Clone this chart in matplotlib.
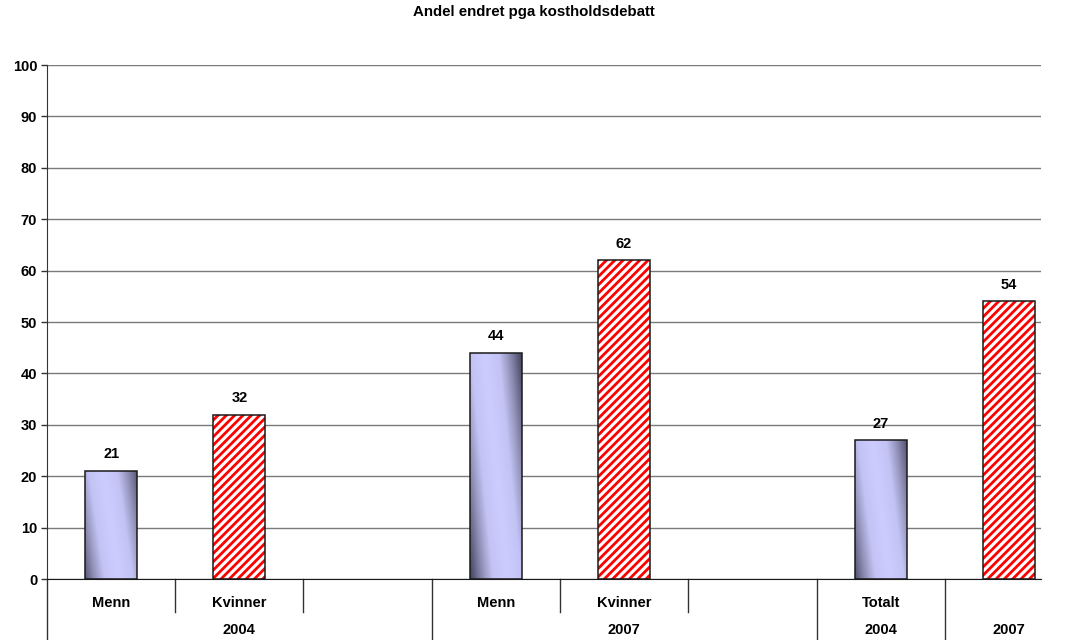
import numpy as np
import matplotlib
matplotlib.use("Agg")
import matplotlib.pyplot as plt
from matplotlib.colors import LinearSegmentedColormap
import matplotlib.transforms as mtransforms

plt.rcParams["font.family"] = ["Liberation Sans", "DejaVu Sans"]
plt.rcParams["hatch.linewidth"] = 2.0

title = "Andel endret pga kostholdsdebatt"

# slot labels, inner and outer level
inner_labels = ["Menn", "Kvinner", "", "Menn", "Kvinner", "", "Totalt", ""]
outer_groups = [("2004", 0, 2), ("2007", 3, 5), ("2004", 6, 6), ("2007", 7, 7)]

# solid (gradient) bars and hatched bars: slot index and value
solid_slots = [0, 3, 6]
solid_values = [21, 44, 27]
hatched_slots = [1, 4, 7]
hatched_values = [32, 62, 54]

bar_w = 0.405
y_ticks = list(range(0, 101, 10))
fs = 10.5


def main() -> None:
    fig = plt.figure(figsize=(10.67, 6.4), dpi=100)
    ax = fig.add_axes([0.044, 0.0953, 0.9316, 0.8031])

    ax.set_axisbelow(True)
    ax.yaxis.grid(True, color="#7a7a7a", linewidth=1.0)

    # lavender bars with a diagonal shading
    cmap = LinearSegmentedColormap.from_list(
        "shade", ["#ccccff", "#c2c2f4", "#8a8ab0", "#4a4a68"])
    nu, nv = 60, 200
    u = np.linspace(0, 1, nu)
    v = np.linspace(0, 1, nv)
    uu, vv = np.meshgrid(u, v)
    for x, val in zip(solid_slots, solid_values):
        s = uu + 0.45 * (vv - 0.5) * (val / 44) ** 0.5
        f = np.clip(np.abs(s - 0.5) / 0.7, 0, 1) ** 1.2
        bars = ax.bar(x, val, bar_w, facecolor="none", edgecolor="#1a1a1a",
                      linewidth=1.1, zorder=3)
        im = ax.imshow(f, cmap=cmap, vmin=0, vmax=1, origin="lower",
                       extent=[x - bar_w / 2, x + bar_w / 2, 0, val],
                       aspect="auto", zorder=2, interpolation="bilinear")
        im.set_clip_path(bars.patches[0])

    # red/white striped bars
    ax.bar(hatched_slots, hatched_values, bar_w, facecolor="white",
           edgecolor="#ff0000", linewidth=0, hatch="////", zorder=2)
    ax.bar(hatched_slots, hatched_values, bar_w, facecolor="none",
           edgecolor="#1a1a1a", linewidth=1.1, zorder=3)

    for x, val in zip(solid_slots + hatched_slots, solid_values + hatched_values):
        ax.annotate(str(val), (x, val), xytext=(0, 7), textcoords="offset points",
                    ha="center", va="bottom", fontsize=fs, fontweight="bold")

    ax.set_xlim(-0.5, 7.25)
    ax.set_ylim(0, 100)
    ax.set_yticks(y_ticks)
    ax.set_yticklabels([str(t) for t in y_ticks], fontsize=fs, fontweight="bold")
    ax.tick_params(axis="y", length=4, width=1, color="#333333", pad=3)
    ax.set_xticks([])

    for side in ["top", "right"]:
        ax.spines[side].set_visible(False)
    ax.spines["left"].set_color("#333333")
    ax.spines["bottom"].set_color("#1a1a1a")

    # two-level category axis
    trans = mtransforms.blended_transform_factory(ax.transData, ax.transAxes)
    for i, lab in enumerate(inner_labels):
        ax.text(i, -0.047, lab, transform=trans, ha="center", va="center",
                fontsize=fs, fontweight="bold")
    group_edges = set()
    for lab, a, b in outer_groups:
        ax.text((a + b) / 2, -0.099, lab, transform=trans, ha="center",
                va="center", fontsize=fs, fontweight="bold")
        group_edges.add(a - 0.5)
    for i in range(1, 8):
        edge = i - 0.5
        y_end = -0.125 if edge in group_edges else -0.064
        ax.plot([edge, edge], [0, y_end], transform=trans, color="#333333",
                linewidth=1.0, clip_on=False)
    ax.plot([-0.5, -0.5], [0, -0.125], transform=trans, color="#333333",
            linewidth=1.0, clip_on=False)

    fig.text(0.5, 0.981, title, ha="center", va="center", fontsize=10.8,
             fontweight="bold")

    fig.savefig("out.png", dpi=100)


if __name__ == "__main__":
    main()
